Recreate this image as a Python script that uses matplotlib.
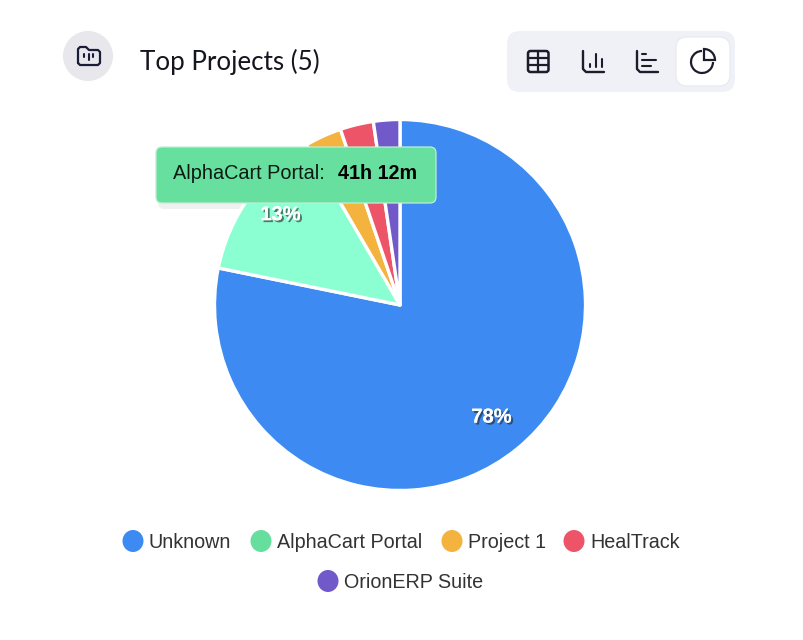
import matplotlib
matplotlib.use("Agg")
import matplotlib.pyplot as plt
import matplotlib.patches as patches
import matplotlib.patheffects as pe

# percent share of each project
proyectos = ['Unknown', 'AlphaCart Portal', 'Project 1', 'HealTrack', 'OrionERP Suite']
valores = [78.2, 13.4, 3.2, 2.9, 2.3]
colores_pie = ['#3D8BF2', '#8CFFD2', '#F4B23F', '#EE5468', '#7159C9']
colores_leyenda = ['#3D8BF2', '#66DE9E', '#F4B23F', '#EE5468', '#7159C9']
titulo = 'Top Projects (5)'
tooltip_nombre = 'AlphaCart Portal:'
tooltip_valor = '41h 12m'

W, H = 804, 640
fig = plt.figure(figsize=(W / 100, H / 100), dpi=100, facecolor='white')
ax = fig.add_axes([0, 0, 1, 1])


def Y(y):
    # pixel rows count from the top
    return H - y


def caja(x0, y0, x1, y1, r, z=2, **kw):
    p = patches.FancyBboxPatch((x0 + r, Y(y1) + r), x1 - x0 - 2 * r, y1 - y0 - 2 * r,
                               boxstyle=f'round,pad={r},rounding_size={r}', zorder=z, **kw)
    ax.add_patch(p)
    return p


def linea(xs, ys, lw=1.7, color='#1c1c2b', z=6):
    ax.plot(xs, [Y(v) for v in ys], color=color, lw=lw, zorder=z,
            solid_capstyle='round', solid_joinstyle='round')


# Pie
wedges, _, pct = ax.pie(valores, colors=colores_pie, startangle=90, counterclock=False,
                        center=(400, Y(305)), radius=185.5, frame=True,
                        wedgeprops=dict(edgecolor='white', linewidth=2.4, joinstyle='round'),
                        autopct=lambda p: f'{p:.0f}%' if p > 10 else '', pctdistance=0.78,
                        textprops=dict(family='Liberation Sans', fontsize=14.5,
                                       weight='bold', color='white'))
for t in pct:
    t.set_path_effects([pe.withSimplePatchShadow(offset=(1.4, -1.4), shadow_rgbFace='#222222', alpha=0.6),
                        pe.Normal()])
# the 13% label sits a bit further out than the other one
px, py = pct[1].get_position()
pct[1].set_position((px - 2, py + 6))

ax.set_xlim(0, W)
ax.set_ylim(0, H)
ax.set_aspect('equal')
ax.axis('off')

# Header
ax.add_patch(patches.Circle((88, Y(56)), 25, facecolor='#E7E7EC', edgecolor='none', zorder=2))
linea([78, 78, 80, 86, 89, 98, 100, 100, 98, 80, 78], [63, 49, 47, 47, 50, 50, 52, 63, 65, 65, 63],
      lw=1.6, color='#1b1b3a')
linea([84.5, 84.5], [54, 57], lw=1.5, color='#1b1b3a')
linea([89, 89], [54, 60], lw=1.5, color='#1b1b3a')
linea([93.5, 93.5], [54, 57], lw=1.5, color='#1b1b3a')
ax.text(140, Y(61.5), titulo, family='Lato', fontsize=18.7, color='#15151f', va='center', ha='left', zorder=5)

# Chart type switch
caja(507, 31, 735, 92, 13, facecolor='#F0F1F6', edgecolor='none')
caja(676, 37, 730, 86, 11, z=3, facecolor='white', edgecolor='#E8E9EE', linewidth=0.8)

# table icon
ax.add_patch(patches.FancyBboxPatch((528, Y(72)), 20.5, 21, boxstyle='round,pad=0,rounding_size=2.5',
                                    facecolor='none', edgecolor='#1c1c2b', lw=1.8, zorder=6))
linea([528, 548], [58, 58], lw=1.6)
linea([528, 548], [65, 65], lw=1.6)
linea([538, 538], [51, 72], lw=1.6)
# column icon
linea([583, 583, 586, 604], [51, 69, 72, 72])
linea([590, 590], [64, 67], lw=1.5)
linea([596, 596], [54, 67], lw=1.5)
linea([602, 602], [59, 67], lw=1.5)
# bar icon
linea([637, 637, 640, 658], [51, 69, 72, 72])
linea([642, 646], [54, 54], lw=1.5)
linea([642, 656], [60, 60], lw=1.5)
linea([642, 651], [66, 66], lw=1.5)
# pie icon
ax.add_patch(patches.Arc((702, Y(62)), 22, 22, theta1=90, theta2=360, color='#1c1c2b', lw=1.6, zorder=6))
ax.add_patch(patches.Wedge((704, Y(60)), 11, 0, 90, facecolor='none',
                           edgecolor='#1c1c2b', lw=1.6, zorder=6))

# Tooltip, its shadow only shows on the white background
caja(158, 150, 440, 209, 6, z=0.5, facecolor='#BBBBBB', edgecolor='none', alpha=0.22)
caja(156, 147, 436, 203, 6, z=10, facecolor='#67DF9F', edgecolor='#BDEFD3', linewidth=0.9)
ax.text(173, Y(173.5), tooltip_nombre, family='Liberation Sans', fontsize=14.3, color='#0c1a12',
        va='center', ha='left', zorder=11)
ax.text(338, Y(173.5), tooltip_valor, family='Liberation Sans', fontsize=14.2, weight='bold', color='black',
        va='center', ha='left', zorder=11)

# Legend, two centred rows
leyenda_x = [133, 261, 452, 574, 328]
leyenda_y = [541, 541, 541, 541, 581]
for nombre, col, lx, ly in zip(proyectos, colores_leyenda, leyenda_x, leyenda_y):
    ax.add_patch(patches.Ellipse((lx, Y(ly)), 21, 22, facecolor=col, edgecolor='none', zorder=4))
    ax.text(lx + 16, Y(ly + 1.5), nombre, family='Liberation Sans', fontsize=14.2, color='#333333',
            va='center', ha='left', zorder=4)

fig.savefig('out.png', dpi=100, facecolor='white')
